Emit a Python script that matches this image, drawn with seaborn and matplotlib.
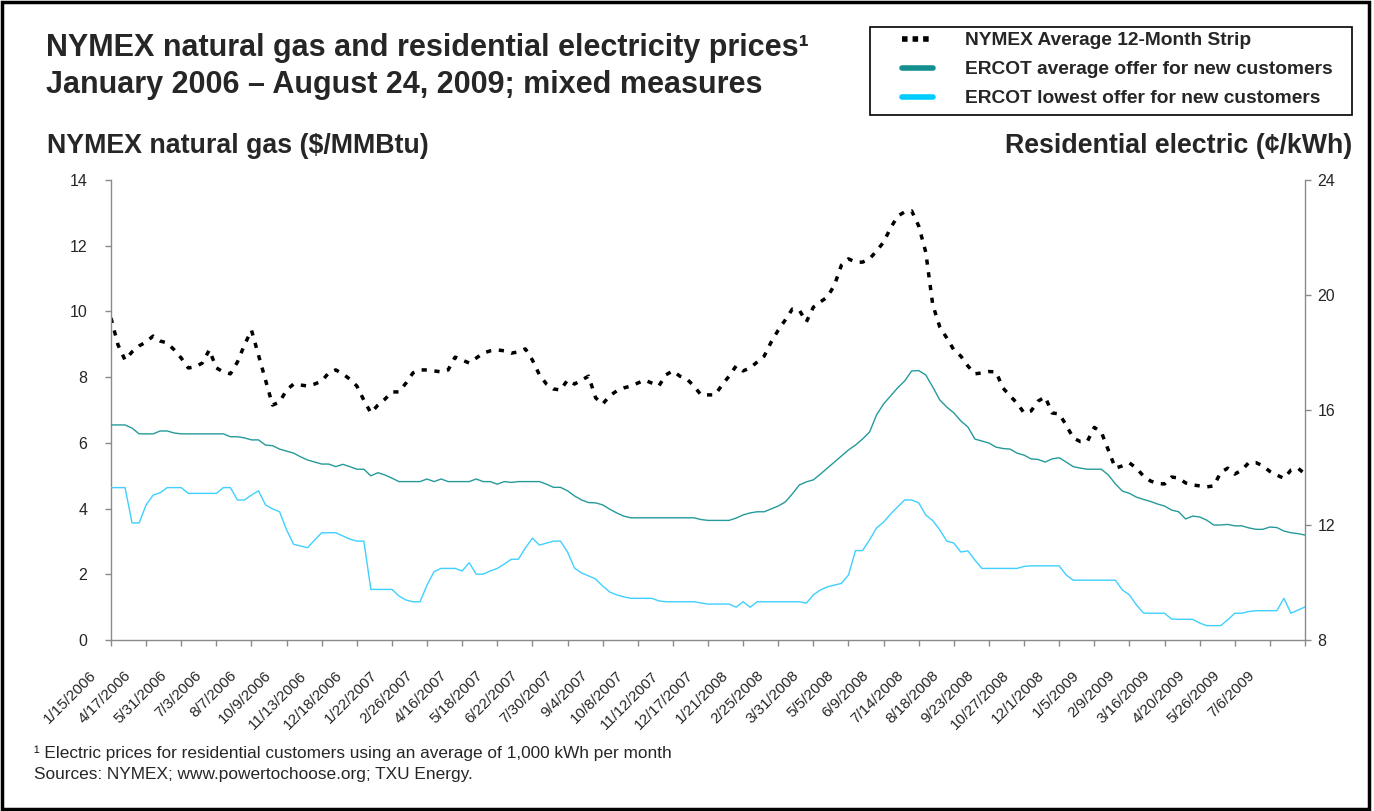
import numpy as np
import pandas as pd
import matplotlib
matplotlib.use("Agg")
import matplotlib.pyplot as plt
import matplotlib.transforms as mtransforms
from matplotlib.lines import Line2D
from matplotlib.patches import Rectangle
import seaborn as sns

# ---------------- data ----------------
tick_labels = ["1/15/2006", "4/17/2006", "5/31/2006", "7/3/2006", "8/7/2006",
               "10/9/2006", "11/13/2006", "12/18/2006", "1/22/2007", "2/26/2007",
               "4/16/2007", "5/18/2007", "6/22/2007", "7/30/2007", "9/4/2007",
               "10/8/2007", "11/12/2007", "12/17/2007", "1/21/2008", "2/25/2008",
               "3/31/2008", "5/5/2008", "6/9/2008", "7/14/2008", "8/18/2008",
               "9/23/2008", "10/27/2008", "12/1/2008", "1/5/2009", "2/9/2009",
               "3/16/2009", "4/20/2009", "5/26/2009", "7/6/2009"]

nymex = [9.80, 8.98, 8.52, 8.77, 8.95, 9.07, 9.25, 9.10, 9.04, 8.83,
         8.58, 8.28, 8.31, 8.43, 8.83, 8.28, 8.16, 8.10, 8.46, 8.98,
         9.43, 8.67, 7.91, 7.15, 7.24, 7.61, 7.79, 7.76, 7.73, 7.79,
         7.88, 8.13, 8.22, 8.10, 7.94, 7.73, 7.30, 6.91, 7.15, 7.33,
         7.55, 7.55, 7.82, 8.13, 8.22, 8.22, 8.19, 8.16, 8.22, 8.61,
         8.52, 8.43, 8.58, 8.73, 8.80, 8.83, 8.80, 8.73, 8.77, 8.86,
         8.52, 8.07, 7.79, 7.64, 7.61, 7.91, 7.79, 7.91, 8.03, 7.37,
         7.18, 7.43, 7.58, 7.67, 7.73, 7.82, 7.91, 7.82, 7.73, 8.07,
         8.19, 8.03, 7.94, 7.73, 7.46, 7.46, 7.46, 7.76, 8.03, 8.34,
         8.19, 8.28, 8.46, 8.64, 9.07, 9.43, 9.74, 10.07, 10.04, 9.68,
         10.13, 10.29, 10.44, 10.80, 11.41, 11.60, 11.50, 11.50, 11.60, 11.84,
         12.11, 12.54, 12.90, 13.03, 13.06, 12.60, 11.81, 10.20, 9.53, 9.19,
         8.83, 8.64, 8.34, 8.10, 8.13, 8.17, 8.16, 7.67, 7.43, 7.21,
         6.91, 6.97, 7.27, 7.40, 6.91, 6.88, 6.54, 6.15, 6.04, 6.04,
         6.47, 6.33, 5.78, 5.23, 5.30, 5.39, 5.23, 4.99, 4.84, 4.76,
         4.75, 4.96, 4.93, 4.78, 4.72, 4.69, 4.66, 4.69, 5.10, 5.23,
         5.05, 5.17, 5.40, 5.40, 5.30, 5.13, 5.02, 4.92, 5.17, 5.23,
         5.05]

ercot_avg = [15.48, 15.48, 15.48, 15.37, 15.17, 15.17, 15.17, 15.27, 15.27, 15.20,
             15.17, 15.17, 15.17, 15.17, 15.17, 15.17, 15.17, 15.07, 15.07, 15.03,
             14.96, 14.96, 14.78, 14.76, 14.64, 14.57, 14.50, 14.37, 14.26, 14.19,
             14.12, 14.12, 14.03, 14.11, 14.03, 13.94, 13.94, 13.71, 13.82, 13.74,
             13.63, 13.51, 13.51, 13.51, 13.51, 13.60, 13.51, 13.60, 13.51, 13.51,
             13.51, 13.51, 13.60, 13.51, 13.51, 13.42, 13.51, 13.48, 13.51, 13.51,
             13.51, 13.51, 13.42, 13.31, 13.31, 13.19, 13.01, 12.87, 12.78, 12.77,
             12.70, 12.55, 12.42, 12.31, 12.25, 12.25, 12.25, 12.25, 12.25, 12.25,
             12.25, 12.25, 12.25, 12.25, 12.19, 12.16, 12.16, 12.16, 12.16, 12.24,
             12.35, 12.42, 12.46, 12.46, 12.56, 12.66, 12.80, 13.08, 13.39, 13.50,
             13.57, 13.77, 13.98, 14.19, 14.40, 14.61, 14.78, 14.99, 15.23, 15.83,
             16.21, 16.49, 16.77, 17.01, 17.36, 17.37, 17.22, 16.80, 16.35, 16.10,
             15.90, 15.62, 15.41, 14.99, 14.92, 14.85, 14.71, 14.66, 14.64, 14.50,
             14.43, 14.30, 14.28, 14.19, 14.30, 14.34, 14.19, 14.03, 13.98, 13.94,
             13.94, 13.94, 13.74, 13.43, 13.18, 13.10, 12.97, 12.89, 12.82, 12.73,
             12.66, 12.52, 12.46, 12.21, 12.31, 12.28, 12.17, 12.00, 12.00, 12.02,
             11.97, 11.97, 11.90, 11.85, 11.85, 11.93, 11.91, 11.79, 11.73, 11.70,
             11.65]

ercot_low = [13.30, 13.30, 13.30, 12.07, 12.07, 12.70, 13.04, 13.12, 13.30, 13.30,
             13.30, 13.10, 13.10, 13.10, 13.10, 13.10, 13.30, 13.30, 12.87, 12.87,
             13.04, 13.19, 12.70, 12.56, 12.46, 11.83, 11.33, 11.27, 11.21, 11.48,
             11.73, 11.73, 11.73, 11.62, 11.51, 11.44, 11.44, 9.76, 9.76, 9.76,
             9.76, 9.53, 9.39, 9.33, 9.33, 9.91, 10.38, 10.49, 10.49, 10.49,
             10.40, 10.69, 10.29, 10.29, 10.40, 10.49, 10.64, 10.81, 10.81, 11.20,
             11.54, 11.30, 11.37, 11.44, 11.44, 11.06, 10.50, 10.33, 10.23, 10.12,
             9.88, 9.67, 9.57, 9.50, 9.45, 9.45, 9.45, 9.45, 9.36, 9.33,
             9.33, 9.33, 9.33, 9.33, 9.29, 9.25, 9.25, 9.25, 9.25, 9.14,
             9.33, 9.14, 9.33, 9.33, 9.33, 9.33, 9.33, 9.33, 9.33, 9.28,
             9.57, 9.74, 9.85, 9.91, 9.97, 10.26, 11.11, 11.11, 11.48, 11.90,
             12.10, 12.38, 12.63, 12.87, 12.87, 12.77, 12.35, 12.15, 11.83, 11.44,
             11.37, 11.06, 11.10, 10.78, 10.49, 10.49, 10.49, 10.49, 10.49, 10.49,
             10.56, 10.58, 10.58, 10.58, 10.58, 10.58, 10.26, 10.08, 10.08, 10.08,
             10.08, 10.08, 10.08, 10.08, 9.74, 9.57, 9.22, 8.94, 8.93, 8.93,
             8.93, 8.73, 8.72, 8.72, 8.72, 8.59, 8.50, 8.50, 8.50, 8.70,
             8.93, 8.93, 8.99, 9.02, 9.02, 9.02, 9.02, 9.45, 8.93, 9.04,
             9.15]

series_names = ["NYMEX Average 12-Month Strip",
                "ERCOT average offer for new customers",
                "ERCOT lowest offer for new customers"]

# ---------------- styling ----------------
W, H = 1374, 811
sns.set_style("white")
plt.rcParams["font.family"] = ["Liberation Sans", "DejaVu Sans"]

def px(x, y):
    return (x / W, 1 - y / H)

TEAL = "#259a9a"
CYAN = "#3fd0ff"
GRAY = "#8a8a8a"

df = pd.DataFrame({"idx": np.arange(len(nymex)),
                   "nymex": nymex, "avg": ercot_avg, "low": ercot_low})

fig = plt.figure(figsize=(W / 100, H / 100), dpi=100)
x0, x1, ytop, ybot = 111, 1305, 180, 640
ax = fig.add_axes([x0 / W, 1 - ybot / H, (x1 - x0) / W, (ybot - ytop) / H])
ax2 = ax.twinx()

sns.lineplot(data=df, x="idx", y="nymex", ax=ax, color="black", linewidth=2.5,
             linestyle=(0, (1.5, 2.2)), dash_capstyle="butt")
sns.lineplot(data=df, x="idx", y="avg", ax=ax2, color=TEAL, linewidth=1.0)
sns.lineplot(data=df, x="idx", y="low", ax=ax2, color=CYAN, linewidth=1.0)

n = len(nymex)
ax.set_xlim(0, n - 1)
ax.set_ylim(0, 14)
ax2.set_ylim(8, 24)
ax.set_yticks(range(0, 15, 2))
ax2.set_yticks(range(8, 25, 4))
ax.set_xticks(range(0, n, 5))
ax.set_xticklabels(tick_labels + [""] * (len(range(0, n, 5)) - len(tick_labels)))
for a in (ax, ax2):
    a.set_xlabel("")
    a.set_ylabel("")
    a.spines["top"].set_visible(False)
    for s in a.spines.values():
        s.set_color(GRAY)
        s.set_linewidth(1.0)
ax.spines["right"].set_visible(False)
ax2.spines["left"].set_visible(False)
ax2.spines["bottom"].set_visible(False)

ax.tick_params(axis="x", bottom=True, direction="out", length=4, width=1,
               color=GRAY, labelsize=11, pad=0)
ax.tick_params(axis="y", left=True, direction="out", length=4, width=1,
               color=GRAY, labelsize=11.5, pad=13)
ax2.tick_params(axis="y", right=True, left=False, direction="out", length=4,
                width=1, color=GRAY, labelsize=11.5, pad=5)

offset = mtransforms.ScaledTranslation(-17 / 100, -28 / 100, fig.dpi_scale_trans)
for lab in ax.get_xticklabels():
    lab.set_rotation(45)
    lab.set_ha("right")
    lab.set_va("center")
    lab.set_rotation_mode("anchor")
    lab.set_transform(lab.get_transform() + offset)

# ---------------- texts ----------------
fig.text(*px(46, 48), "NYMEX natural gas and residential electricity prices¹",
         fontsize=22, weight="bold", va="center", ha="left")
fig.text(*px(46, 85), "January 2006 \u2013 August 24, 2009; mixed measures",
         fontsize=22, weight="bold", va="center", ha="left")
fig.text(*px(47, 146), r"NYMEX natural gas (\$/MMBtu)",
         fontsize=19.3, weight="bold", va="center", ha="left")
fig.text(*px(1352, 146), "Residential electric (\u00a2/kWh)",
         fontsize=19.3, weight="bold", va="center", ha="right")
fig.text(*px(34, 753), "¹ Electric prices for residential customers using an average of 1,000 kWh per month",
         fontsize=12.4, va="center", ha="left")
fig.text(*px(34, 774), "Sources: NYMEX; www.powertochoose.org; TXU Energy.",
         fontsize=12.4, va="center", ha="left")

# ---------------- legend ----------------
handles = [Line2D([], [], color="black", linewidth=4, linestyle=(0, (1.0, 0.9)),
                  dash_capstyle="butt"),
           Line2D([], [], color="#148f8f", linewidth=4),
           Line2D([], [], color="#00ccff", linewidth=4)]
fig.legend(handles, series_names, loc="upper left", bbox_to_anchor=px(902, 32),
           frameon=False, prop={"weight": "bold", "size": 13.8},
           handlelength=1.6, handletextpad=1.7, labelspacing=0.6,
           borderpad=0, borderaxespad=0)
lx0, ly0 = px(870, 115)
lx1, ly1 = px(1352, 27)
fig.add_artist(Rectangle((lx0, ly0), lx1 - lx0, ly1 - ly0, transform=fig.transFigure,
                         fill=False, edgecolor="black", linewidth=1.2))

# outer frame
fig.add_artist(Rectangle((0.0015, 0.0025), 0.995, 0.995, transform=fig.transFigure,
                         fill=False, edgecolor="black", linewidth=2.5))

fig.savefig("out.png", dpi=100)
